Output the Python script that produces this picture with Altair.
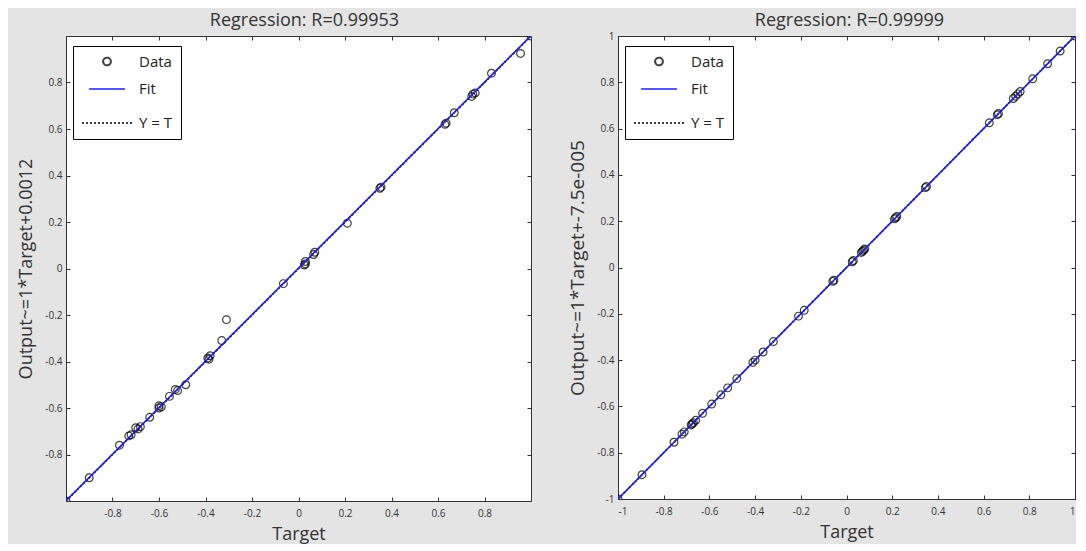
import altair as alt
import pandas as pd

# ---------------- data ----------------
left_target = [1.0, 0.955, 0.83, 0.75, 0.745, 0.76, 0.67, 0.635, 0.63, 0.355, 0.35, 0.21,
               0.07, 0.065, 0.03, 0.03, 0.025, -0.065, -0.31, -0.33, -0.39, -0.38, -0.385,
               -0.485, -0.53, -0.52, -0.555, -0.6, -0.6, -0.59, -0.64, -0.7, -0.69, -0.68,
               -0.72, -0.73, -0.77, -0.9, -1.0]
left_output = [1.0, 0.925, 0.84, 0.75, 0.74, 0.755, 0.67, 0.625, 0.62, 0.35, 0.345, 0.195,
               0.07, 0.06, 0.03, 0.02, 0.015, -0.065, -0.22, -0.31, -0.385, -0.375, -0.39,
               -0.5, -0.52, -0.525, -0.55, -0.6, -0.59, -0.595, -0.64, -0.685, -0.69, -0.68,
               -0.715, -0.72, -0.76, -0.9, -1.0]

right_target = [1.0, 0.935, 0.88, 0.815, 0.76, 0.75, 0.74, 0.73, 0.66, 0.665, 0.625, 0.35,
                0.345, 0.215, 0.21, 0.22, 0.08, 0.075, 0.07, 0.065, 0.03, 0.025, -0.06,
                -0.055, -0.185, -0.21, -0.32, -0.365, -0.4, -0.41, -0.48, -0.52, -0.55,
                -0.59, -0.63, -0.66, -0.67, -0.675, -0.68, -0.71, -0.72, -0.755, -0.895, -1.0]
right_output = [1.0, 0.935, 0.88, 0.815, 0.76, 0.75, 0.74, 0.73, 0.66, 0.665, 0.625, 0.35,
                0.345, 0.215, 0.21, 0.22, 0.08, 0.075, 0.07, 0.065, 0.03, 0.025, -0.06,
                -0.055, -0.185, -0.21, -0.32, -0.365, -0.4, -0.41, -0.48, -0.52, -0.55,
                -0.59, -0.63, -0.66, -0.67, -0.675, -0.68, -0.71, -0.72, -0.755, -0.895, -1.0]

left_fit_x = [-1.0, 1.0]
left_fit_y = [-0.9988, 1.0012]
right_fit_x = [-1.0, 1.0]
right_fit_y = [-1.000075, 0.999925]
ident_x = [-1.0, 1.0]
ident_y = [-1.0, 1.0]

left_ticks = [-0.8, -0.6, -0.4, -0.2, 0, 0.2, 0.4, 0.6, 0.8]
right_ticks = [-1, -0.8, -0.6, -0.4, -0.2, 0, 0.2, 0.4, 0.6, 0.8, 1]

series_names = ["Data", "Fit", "Y = T"]
series_colors = ["#000000", "#1f1fdd", "#000000"]
series_shapes = ["circle", "M-1,0H1", "M-1,0H1"]
series_dashes = [[1, 0], [1, 0], [2, 2]]
series_sizes = [60, 2500, 2500]

FONT = "Open Sans"
TXT = "#333333"
INSIDE_TICK = [4, 2000]


def panel(target, output, fit_x, fit_y, title, ytitle, ticks, w, h, ytitle_size, title_dx, title_offset):
    pts = pd.DataFrame({"Target": target, "Output": output, "series": "Data"})
    lines = pd.DataFrame({
        "Target": ident_x + fit_x,
        "Output": ident_y + fit_y,
        "series": ["Y = T"] * len(ident_x) + ["Fit"] * len(fit_x),
    })
    xs = alt.Scale(domain=[-1, 1], nice=False, zero=False)
    ys = alt.Scale(domain=[-1, 1], nice=False, zero=False)
    leg = alt.Legend(title=None, orient="none", legendX=7, legendY=10)
    color = alt.Color("series:N", scale=alt.Scale(domain=series_names, range=series_colors), legend=leg)
    dash = alt.StrokeDash("series:N", scale=alt.Scale(domain=series_names, range=series_dashes), legend=leg)
    shape = alt.Shape("series:N", scale=alt.Scale(domain=series_names, range=series_shapes), legend=leg)
    size = alt.Size("series:N", scale=alt.Scale(domain=series_names, range=series_sizes), legend=leg)

    lab = "'' + datum.value"
    xaxis = alt.Axis(values=ticks, labelExpr=lab, title="Target", ticks=False, grid=True,
                     gridDash=INSIDE_TICK, labelPadding=7, titlePadding=7)
    yaxis = alt.Axis(values=ticks, labelExpr=lab, title=ytitle, ticks=False, grid=True,
                     gridDash=INSIDE_TICK, labelPadding=4, titlePadding=9, titleFontSize=ytitle_size)
    xaxis2 = alt.Axis(values=ticks, orient="top", labels=False, title=None, ticks=False,
                      domain=False, grid=True, gridDash=INSIDE_TICK)
    yaxis2 = alt.Axis(values=ticks, orient="right", labels=False, title=None, ticks=False,
                      domain=False, grid=True, gridDash=INSIDE_TICK)

    line_layer = alt.Chart(lines).mark_line(strokeWidth=1.6, clip=True).encode(
        x=alt.X("Target:Q", scale=xs, axis=xaxis),
        y=alt.Y("Output:Q", scale=ys, axis=yaxis),
        color=color,
        strokeDash=dash,
        detail="series:N",
        order=alt.Order("Target:Q"),
    )
    point_layer = alt.Chart(pts).mark_point(filled=False, strokeWidth=1.2, opacity=0.75, clip=True).encode(
        x=alt.X("Target:Q", scale=xs, axis=xaxis2),
        y=alt.Y("Output:Q", scale=ys, axis=yaxis2),
        color=color,
        shape=shape,
        size=size,
    )
    return alt.layer(point_layer, line_layer).resolve_axis(x="independent", y="independent").properties(
        width=w, height=h,
        title=alt.TitleParams(title, fontSize=18, font=FONT, color=TXT, fontWeight="normal",
                              offset=title_offset, dx=title_dx),
    )


left = panel(left_target, left_output, left_fit_x, left_fit_y,
             "Regression: R=0.99953", "Output~=1*Target+0.0012", left_ticks, 465, 465, 18, 6, 6)
right = panel(right_target, right_output, right_fit_x, right_fit_y,
              "Regression: R=0.99999", "Output~=1*Target+-7.5e-005", right_ticks, 457, 463, 19, 3, 1)

chart = alt.hconcat(left, right, spacing=36).resolve_scale(
    color="independent", shape="independent", strokeDash="independent", size="independent"
).resolve_legend(
    color="independent", shape="independent", strokeDash="independent", size="independent"
).properties(
    background="#e4e4e4",
    padding={"left": 9, "top": 3, "right": 0, "bottom": 0},
).configure_view(
    fill="white", stroke="#333333", strokeWidth=1
).configure_axis(
    labelFont=FONT, labelFontSize=10, labelColor=TXT, titleFont=FONT, titleFontSize=18,
    titleColor=TXT, titleFontWeight="normal", gridColor="#333333", gridOpacity=1, gridWidth=1,
    domainColor="#333333",
).configure_legend(
    strokeColor="#000000", fillColor="white", padding=8,
    labelFont=FONT, labelFontSize=15, labelColor="#222222", rowPadding=-2,
    symbolStrokeWidth=2, labelOffset=6, cornerRadius=0,
)

chart.save("out.html", embed_options={"renderer": "svg", "actions": False})
